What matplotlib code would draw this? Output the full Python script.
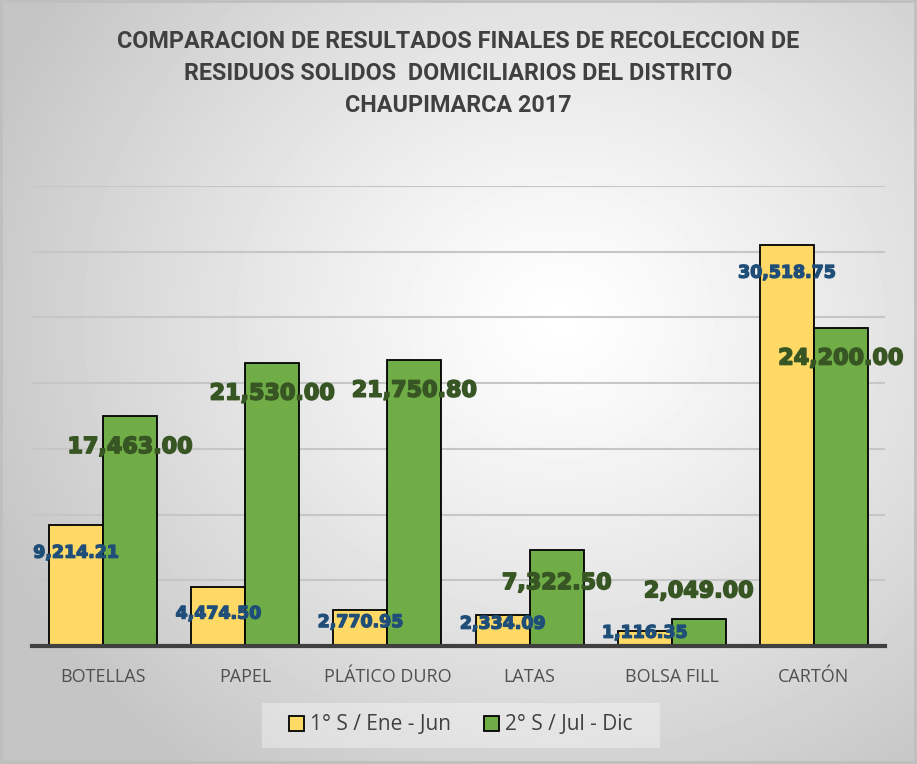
import numpy as np
import matplotlib.pyplot as plt
import matplotlib.patheffects as pe
from matplotlib.patches import Patch

# data
categories = ["BOTELLAS", "PAPEL", "PLÁTICO DURO", "LATAS", "BOLSA FILL", "CARTÓN"]
sem1 = [9214.21, 4474.50, 2770.95, 2334.09, 1116.35, 30518.75]
sem2 = [17463.00, 21530.00, 21750.80, 7322.50, 2049.00, 24200.00]
series_names = ["1° S / Ene - Jun", "2° S / Jul - Dic"]
title = ("COMPARACION DE RESULTADOS FINALES DE RECOLECCION DE\n"
         "RESIDUOS SOLIDOS  DOMICILIARIOS DEL DISTRITO\n"
         "CHAUPIMARCA 2017")

# label offsets in points (vertical, from the bar top)
off1 = [-20, -19, -9, -6, -1, -20]
off2 = [-22, -22, -22, -24, 20, -22]

W, H = 917, 764
fig = plt.figure(figsize=(W / 100, H / 100), dpi=100)

# radial gradient background
bg = fig.add_axes([0, 0, 1, 1])
yy, xx = np.mgrid[0:H, 0:W]
r = np.sqrt(((xx - 560) / 620) ** 2 + ((yy - 320) / 560) ** 2)
shade = 1.0 - 0.23 * np.clip(r, 0, 1) ** 1.2
bg.imshow(shade, cmap="gray", vmin=0, vmax=1, aspect="auto", extent=[0, W, H, 0])
bg.add_patch(plt.Rectangle((1, 1), W - 3, H - 3, fill=False, ec="#bfbfbf", lw=2))
# legend backdrop
bg.add_patch(plt.Rectangle((262, 703), 398, 45, fc="white", alpha=0.35, ec="none"))
bg.set_xlim(0, W)
bg.set_ylim(H, 0)
bg.axis("off")

ax = fig.add_axes([32 / W, (H - 646) / H, (885 - 32) / W, (646 - 186) / H])
ax.patch.set_alpha(0)

x = np.arange(len(categories))
bw = 0.38
ax.bar(x - bw / 2, sem1, bw, color="#FFD966", edgecolor="black", lw=1.3, zorder=3)
ax.bar(x + bw / 2, sem2, bw, color="#70AD47", edgecolor="black", lw=1.3, zorder=3)

ax.set_xlim(-0.5, len(categories) - 0.5)
ax.set_ylim(0, 35000)
ax.set_yticks(np.arange(0, 35001, 5000))
ax.yaxis.grid(True, color="#c6c6c6", lw=1.5, zorder=0)
ax.tick_params(axis="y", left=False, labelleft=False)
ax.tick_params(axis="x", bottom=False, pad=12)
ax.set_xticks(x)
ax.set_xticklabels(categories, fontsize=13, color="#505050", family="Open Sans")
for s in ["top", "right", "left"]:
    ax.spines[s].set_visible(False)
ax.spines["bottom"].set_color("#404040")
ax.spines["bottom"].set_linewidth(3)
ax.spines["bottom"].set_zorder(4)

for i in range(len(categories)):
    ax.annotate(f"{sem1[i]:,.2f}", (x[i] - bw / 2, sem1[i]), xytext=(0, off1[i]),
                textcoords="offset points", ha="center", va="center",
                fontsize=12.5, fontweight="bold", color="#1F4E79",
                family="DejaVu Sans", zorder=5,
                path_effects=[pe.withStroke(linewidth=1.0, foreground="#1F4E79")])
    ax.annotate(f"{sem2[i]:,.2f}", (x[i] + bw / 2, sem2[i]), xytext=(0, off2[i]),
                textcoords="offset points", ha="center", va="center",
                fontsize=16, fontweight="bold", color="#375623",
                family="DejaVu Sans", zorder=5,
                path_effects=[pe.withStroke(linewidth=1.2, foreground="#375623")])

fig.text(458 / W, 1 - 73 / H, title, ha="center", va="center", fontsize=16.8,
         fontweight="bold", color="#404040", linespacing=1.5,
         family=["Roboto", "DejaVu Sans"])

handles = [Patch(fc="#FFD966", ec="black", lw=1.3), Patch(fc="#70AD47", ec="black", lw=1.3)]
leg = fig.legend(handles, series_names, loc="center", bbox_to_anchor=(461 / W, 1 - 725 / H),
                 ncol=2, frameon=False, handlelength=0.7, handleheight=0.7,
                 handletextpad=0.3, columnspacing=1.6,
                 prop={"family": "Open Sans", "size": 15})
for t in leg.get_texts():
    t.set_color("#404040")

fig.savefig("out.png", dpi=100)
